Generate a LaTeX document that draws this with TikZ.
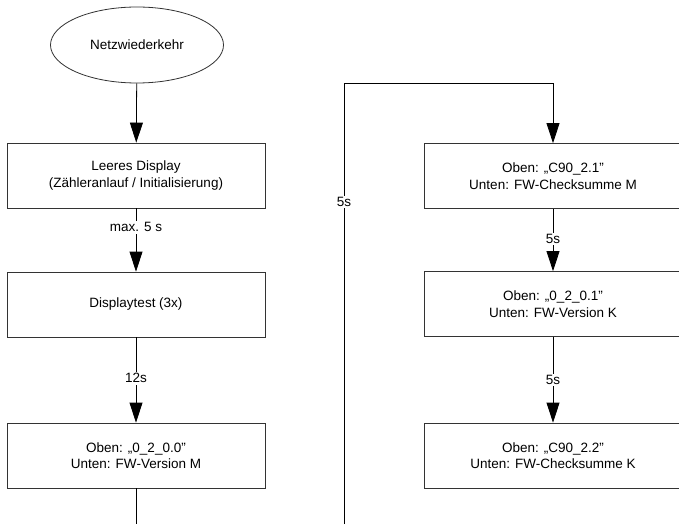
\documentclass[tikz,border=0pt]{standalone}
\usepackage{fontspec}
\setmainfont{Liberation Sans}
\usetikzlibrary{shapes.geometric,arrows.meta}
\tikzstyle{zustand}=[draw=black!80,line width=0.8pt,minimum width=258pt,minimum height=65pt,inner sep=0pt,align=center]
\tikzstyle{oval}=[ellipse,draw=black!80,line width=0.8pt,minimum width=173pt,minimum height=76pt,inner sep=0pt]
\tikzstyle{zeit}=[fill=white,inner sep=1.5pt]

\begin{document}
\begin{tikzpicture}[x=1pt,y=-1pt,font=\fontsize{13.5}{16.5}\selectfont,
  >={Triangle[length=20pt,width=13pt]},line width=0.8pt]
\useasboundingbox (0,0) rectangle (679,524);
\node[oval] (start) at (137, 45) {Netzwiederkehr};
\node[zustand] (leer) at (136, 175.5) {Leeres Display\\(Zähleranlauf / Initialisierung)};
\node[zustand] (test) at (136, 304.5) {Displaytest (3x)};
\node[zustand] (vm) at (136, 455.5) {Oben: „0\_2\_0.0"\\Unten: FW-Version M};
\node[zustand] (cm) at (553, 176) {Oben: „C90\_2.1"\\Unten: FW-Checksumme M};
\node[zustand] (vk) at (553, 304) {Oben: „0\_2\_0.1"\\Unten: FW-Version K};
\node[zustand] (ck) at (553, 455.5) {Oben: „C90\_2.2"\\Unten: FW-Checksumme K};
\coordinate (lo) at (136, 524);
\coordinate (ro) at (344, 524);
\coordinate (knick) at (344, 83);
\draw[->] (start) -- (leer);
\draw[->] (leer) -- node[zeit, pos=0.3] {max. 5 s} (test);
\draw[->] (test) -- node[zeit, pos=0.48] {12s} (vm);
\draw (vm) -- (lo);
\draw[->] (ro) -- node[zeit, pos=0.73] {5s} (knick) -| (cm);
\draw[->] (cm) -- node[zeit, pos=0.48] {5s} (vk);
\draw[->] (vk) -- node[zeit, pos=0.5] {5s} (ck);
\end{tikzpicture}
\end{document}
